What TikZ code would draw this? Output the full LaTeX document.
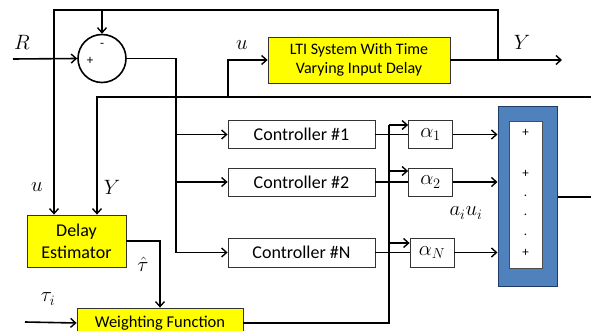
\documentclass[tikz,border=0pt]{standalone}
\usepackage{fontspec}
\setmainfont{Carlito}
\usetikzlibrary{arrows.meta}
\definecolor{boxyellow}{HTML}{FFFF00}
\definecolor{sumblue}{HTML}{4F81BD}
\definecolor{sumedge}{HTML}{1F3A66}
\begin{document}
\begin{tikzpicture}[x=1pt,y=-1pt,
  wire/.style={line width=1.6pt,line join=miter},
  arr/.style={wire,-{Straight Barb[length=5pt,width=9pt,line width=1.4pt]}},
  ybox/.style={draw=black!80,line width=0.8pt,fill=boxyellow,inner sep=0pt,align=center},
  wbox/.style={draw=black!80,line width=0.8pt,fill=white,inner sep=0pt,align=center},
  lbl/.style={inner sep=0pt,font=\fontsize{21}{23}\selectfont},
  sgn/.style={inner sep=0pt,font=\fontsize{13}{14}\selectfont}]
\clip (0,0) rectangle (591,331);
% nodes
\node[draw,line width=1.6pt,circle,minimum size=48pt,inner sep=0pt] (sum) at (102,58.5) {};
\node[sgn] (minus) at (102,45) {-};
\node[sgn] (plus) at (90,61) {+};
\node[ybox,minimum width=182pt,minimum height=46pt,font=\fontsize{16}{19}\selectfont] (lti) at (359,60) {LTI System With Time\\Varying Input Delay};
\node[wbox,minimum width=147pt,minimum height=28pt,font=\fontsize{18}{20}\selectfont] (c1) at (301.5,134.5) {Controller \#1};
\node[wbox,minimum width=147pt,minimum height=28pt,font=\fontsize{18}{20}\selectfont] (c2) at (301.5,182) {Controller \#2};
\node[wbox,minimum width=147pt,minimum height=29pt,font=\fontsize{18}{20}\selectfont] (cN) at (301.5,252.5) {Controller \#N};
\node[wbox,minimum width=44pt,minimum height=28pt,font=\fontsize{21}{23}\selectfont] (a1) at (430.5,134.5) {$\alpha_1$};
\node[wbox,minimum width=44pt,minimum height=28pt,font=\fontsize{21}{23}\selectfont] (a2) at (430.5,182) {$\alpha_2$};
\node[wbox,minimum width=44pt,minimum height=29pt,font=\fontsize{21}{23}\selectfont] (aN) at (432,252.5) {$\alpha_N$};
\node[draw=sumedge,line width=1pt,fill=sumblue,minimum width=59pt,minimum height=179pt,inner sep=0pt] (blue) at (527.5,196.5) {};
\node[draw=black!70,line width=0.6pt,fill=white,minimum width=33pt,minimum height=147pt,inner sep=0pt] (inner) at (525.5,194.5) {};
\node[sgn] (p1) at (525.5,133) {+};
\node[sgn] (p2) at (525.5,174) {+};
\node[sgn] (d1) at (525.5,196) {.};
\node[sgn] (d2) at (525.5,215) {.};
\node[sgn] (d3) at (525.5,235) {.};
\node[sgn] (p3) at (525.5,253) {+};
\node[ybox,minimum width=99pt,minimum height=52pt,font=\fontsize{18}{22}\selectfont] (de) at (76.5,241) {Delay\\Estimator};
\node[ybox,minimum width=166pt,minimum height=30pt,font=\fontsize{16.5}{19}\selectfont,text depth=2pt] (wf) at (160,323) {Weighting Function};
% labels
\node[lbl] (lR) at (22,42) {$R$};
\node[lbl] (lu1) at (242,45) {$u$};
\node[lbl] (lY1) at (522,42) {$Y$};
\node[lbl] (lu2) at (37,187) {$u$};
\node[lbl] (lY2) at (112,187) {$Y$};
\node[lbl] (lth) at (143,264) {$\hat{\tau}$};
\node[lbl] (lti2) at (48,299) {$\tau_i$};
\node[lbl] (laiu) at (466,213) {$a_i u_i$};
% coordinates
\coordinate (yj) at (498,60);
\coordinate (yend) at (562,60);
\coordinate (rin) at (13,59);
\coordinate (fbr) at (592,97);
\coordinate (uout) at (592,197);
\coordinate (tin) at (25,322);
% connectors
\draw[arr] (lti.east) -- (yend);
\draw[arr] (yj) |- (54,10) -- (de.north -| 54,0);
\draw[arr] (102,10) -- (sum.north);
\draw[arr] (rin) -- (sum.west);
\draw[wire] (sum.east) -| (176,252.5);
\draw[arr] (176,134.5) -- (c1.west);
\draw[arr] (176,182) -- (c2.west);
\draw[arr] (176,252.5) -- (cN.west);
\draw[arr] (fbr) -| (de.north -| 97,0);
\draw[arr] (228,97) |- (lti.west);
\draw[wire] (c1.east) -- (a1.west);
\draw[wire] (c2.east) -- (a2.west);
\draw[wire] (cN.east) -- (aN.west);
\draw[arr] (a1.east) -- (a1.east -| blue.west);
\draw[arr] (a2.east) -- (a2.east -| blue.west);
\draw[arr] (aN.east) -- (aN.east -| blue.west);
\draw[wire] (blue.east |- uout) -- (uout);
\draw[arr] (de.east) -| (wf.north -| 160,0);
\draw[arr] (tin) -- (wf.west);
\draw[wire] (wf.east) -| (389,125);
\draw[arr] (389,125) -- (a1.west |- 0,125);
\draw[arr] (389,171) -- (a2.west |- 0,171);
\draw[arr] (389,243) -- (aN.west |- 0,243);
\end{tikzpicture}
\end{document}
